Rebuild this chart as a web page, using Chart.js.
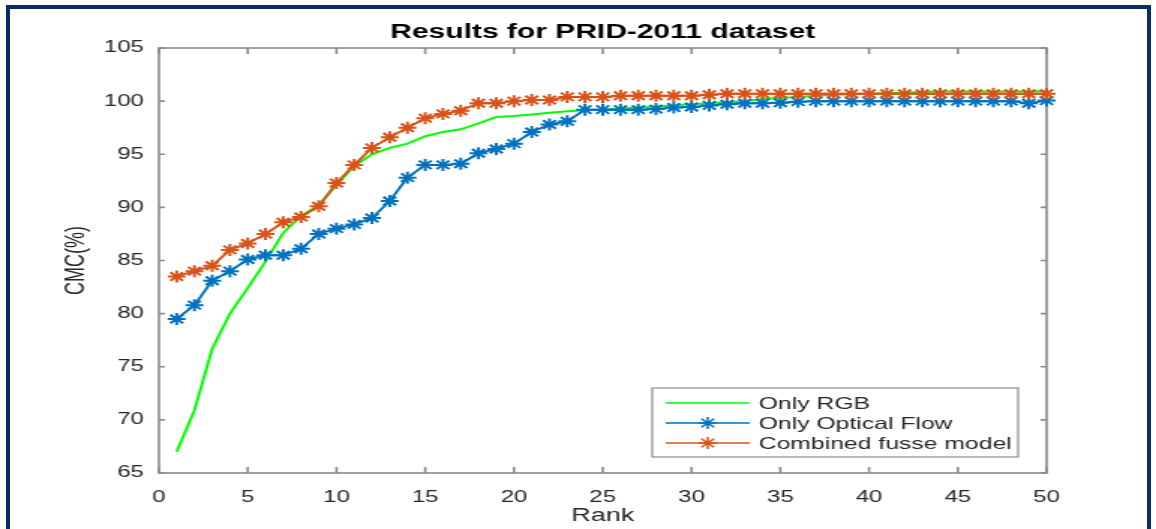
<!DOCTYPE html>
<html>
<head>
<meta charset="utf-8">
<title>Results for PRID-2011 dataset</title>
<script src="https://cdn.jsdelivr.net/npm/chart.js@4.4.1/dist/chart.umd.min.js"></script>
<style>
  html, body { margin: 0; padding: 0; background: #fff; overflow: hidden; }
  #wrap { position: relative; width: 1156px; height: 529px; }
  /* the reference figure is stretched sideways, so the canvas is too */
  #plot { position: absolute; left: 0; top: 0; transform-origin: 0 0; transform: scaleX(1.4994); }
  #frame { position: absolute; left: 6px; top: 5px; width: 1137px; height: 540px;
           border: 4px solid #0c2a66; border-bottom: none; pointer-events: none; }
</style>
</head>
<body>
<div id="wrap">
  <canvas id="plot" width="771" height="529"></canvas>
  <div id="frame"></div>
</div>
<script>
const ranks = Array.from({ length: 50 }, (_, i) => i + 1);

const onlyRgb = [
  67.0, 70.9, 76.7, 80.0, 82.4, 84.9, 87.6, 89.2, 90.2, 92.1,
  93.9, 95.0, 95.6, 96.0, 96.7, 97.1, 97.35, 97.9, 98.5, 98.6,
  98.75, 98.9, 99.05, 99.15, 99.2, 99.3, 99.4, 99.5, 99.6, 99.7,
  99.8, 99.9, 100.0, 100.2, 100.3, 100.4, 100.5, 100.6, 100.65, 100.7,
  100.75, 100.8, 100.85, 100.9, 100.9, 100.9, 100.9, 100.9, 100.9, 100.95
];

const onlyFlow = [
  79.5, 80.8, 83.1, 84.0, 85.1, 85.5, 85.5, 86.1, 87.5, 88.0,
  88.4, 89.0, 90.6, 92.8, 94.0, 94.0, 94.1, 95.1, 95.5, 96.0,
  97.1, 97.8, 98.1, 99.2, 99.2, 99.2, 99.2, 99.25, 99.4, 99.45,
  99.6, 99.7, 99.8, 99.8, 99.85, 99.95, 100.0, 100.0, 100.0, 100.0,
  100.0, 100.0, 100.0, 100.0, 100.0, 100.0, 100.0, 100.0, 99.8, 100.05
];

const combined = [
  83.5, 84.0, 84.5, 86.0, 86.6, 87.5, 88.6, 89.1, 90.1, 92.3,
  94.0, 95.6, 96.6, 97.5, 98.4, 98.8, 99.1, 99.8, 99.8, 100.0,
  100.1, 100.1, 100.4, 100.4, 100.4, 100.5, 100.5, 100.5, 100.5, 100.5,
  100.6, 100.7, 100.7, 100.7, 100.7, 100.7, 100.7, 100.7, 100.7, 100.7,
  100.7, 100.7, 100.7, 100.7, 100.7, 100.7, 100.7, 100.7, 100.7, 100.7
];

const seriesNames = ['Only RGB', 'Only Optical Flow', 'Combined fusse model'];
const seriesColors = ['#00ff00', '#0072bd', '#d95319'];

const fontFamily = '"Liberation Sans", Arial, Helvetica, sans-serif';
const toPoints = vals => vals.map((v, i) => ({ x: ranks[i], y: v }));

// box around the axes with inward ticks on all four sides (matlab style)
const axisBox = {
  id: 'axisBox',
  beforeDatasetsDraw(chart) {
    const { ctx, chartArea: a, scales: { x, y } } = chart;
    ctx.save();
    ctx.strokeStyle = '#8a8a8a';
    ctx.lineWidth = 1.6;
    ctx.strokeRect(a.left, a.top, a.right - a.left, a.bottom - a.top);
    ctx.beginPath();
    x.ticks.forEach(t => {
      const px = x.getPixelForValue(t.value);
      ctx.moveTo(px, a.bottom); ctx.lineTo(px, a.bottom - 6);
      ctx.moveTo(px, a.top); ctx.lineTo(px, a.top + 6);
    });
    y.ticks.forEach(t => {
      const py = y.getPixelForValue(t.value);
      ctx.moveTo(a.left, py); ctx.lineTo(a.left + 4, py);
      ctx.moveTo(a.right, py); ctx.lineTo(a.right - 4, py);
    });
    ctx.stroke();
    ctx.restore();
  }
};

// legend box inside the plot, bottom right
const boxLegend = {
  id: 'boxLegend',
  afterDraw(chart) {
    const { ctx } = chart;
    const left = 435, top = 388, w = 244, h = 69;
    ctx.save();
    ctx.fillStyle = '#fff';
    ctx.fillRect(left, top, w, h);
    ctx.strokeStyle = '#8a8a8a';
    ctx.lineWidth = 1.2;
    ctx.strokeRect(left, top, w, h);
    ctx.font = '16.5px ' + fontFamily;
    ctx.textBaseline = 'middle';
    chart.data.datasets.forEach((ds, i) => {
      const yy = top + 15 + i * 20;
      ctx.strokeStyle = ds.borderColor;
      ctx.lineWidth = 1.5;
      ctx.beginPath();
      ctx.moveTo(left + 9, yy);
      ctx.lineTo(left + 65, yy);
      ctx.stroke();
      if (ds.pointRadius > 0) {
        Chart.helpers.drawPoint(ctx, {
          pointStyle: 'star', radius: ds.pointRadius, borderWidth: ds.pointBorderWidth, rotation: 0
        }, left + 37, yy);
      }
      ctx.fillStyle = '#262626';
      ctx.fillText(ds.label, left + 71, yy + 1);
    });
    ctx.restore();
  }
};

const seriesValues = [onlyRgb, onlyFlow, combined];
const datasets = seriesValues.map((vals, i) => ({
  label: seriesNames[i],
  data: toPoints(vals),
  borderColor: seriesColors[i],
  backgroundColor: seriesColors[i],
  borderWidth: 2,
  pointStyle: 'star',
  pointRadius: i === 0 ? 0 : 6,
  pointBorderWidth: 2,
  pointBorderColor: seriesColors[i],
  tension: 0,
  clip: false,
  order: 3 - i
}));

const tickStyle = { color: '#262626', font: { family: fontFamily, size: 16 } };

new Chart(document.getElementById('plot'), {
  type: 'line',
  data: { datasets },
  options: {
    responsive: false,
    animation: false,
    devicePixelRatio: 1,
    layout: { padding: { left: 0, right: 73, top: 0, bottom: 0 } },
    plugins: {
      legend: { display: false },
      tooltip: { enabled: false },
      title: {
        display: true,
        text: 'Results for PRID-2011 dataset',
        fullSize: false,
        color: '#000',
        font: { family: fontFamily, size: 20, weight: 'bold' },
        padding: { top: 20, bottom: 4 }
      }
    },
    scales: {
      x: {
        type: 'linear',
        min: 0,
        max: 50,
        grid: { display: false },
        border: { display: false },
        ticks: { ...tickStyle, stepSize: 5, padding: 7, maxRotation: 0 },
        title: { display: true, text: 'Rank', color: '#262626',
                 font: { family: fontFamily, size: 18 }, padding: { top: 0, bottom: 2 } },
        afterFit: s => { s.height = 56; }
      },
      y: {
        min: 65,
        max: 105,
        grid: { display: false },
        border: { display: false },
        ticks: { ...tickStyle, stepSize: 5, padding: 2 },
        title: { display: true, text: 'CMC(%)', color: '#262626',
                 font: { family: fontFamily, size: 18 }, padding: { top: 40, bottom: 0 } },
        afterFit: s => { s.width = 106; }
      }
    }
  },
  plugins: [axisBox, boxLegend]
});
</script>
</body>
</html>
